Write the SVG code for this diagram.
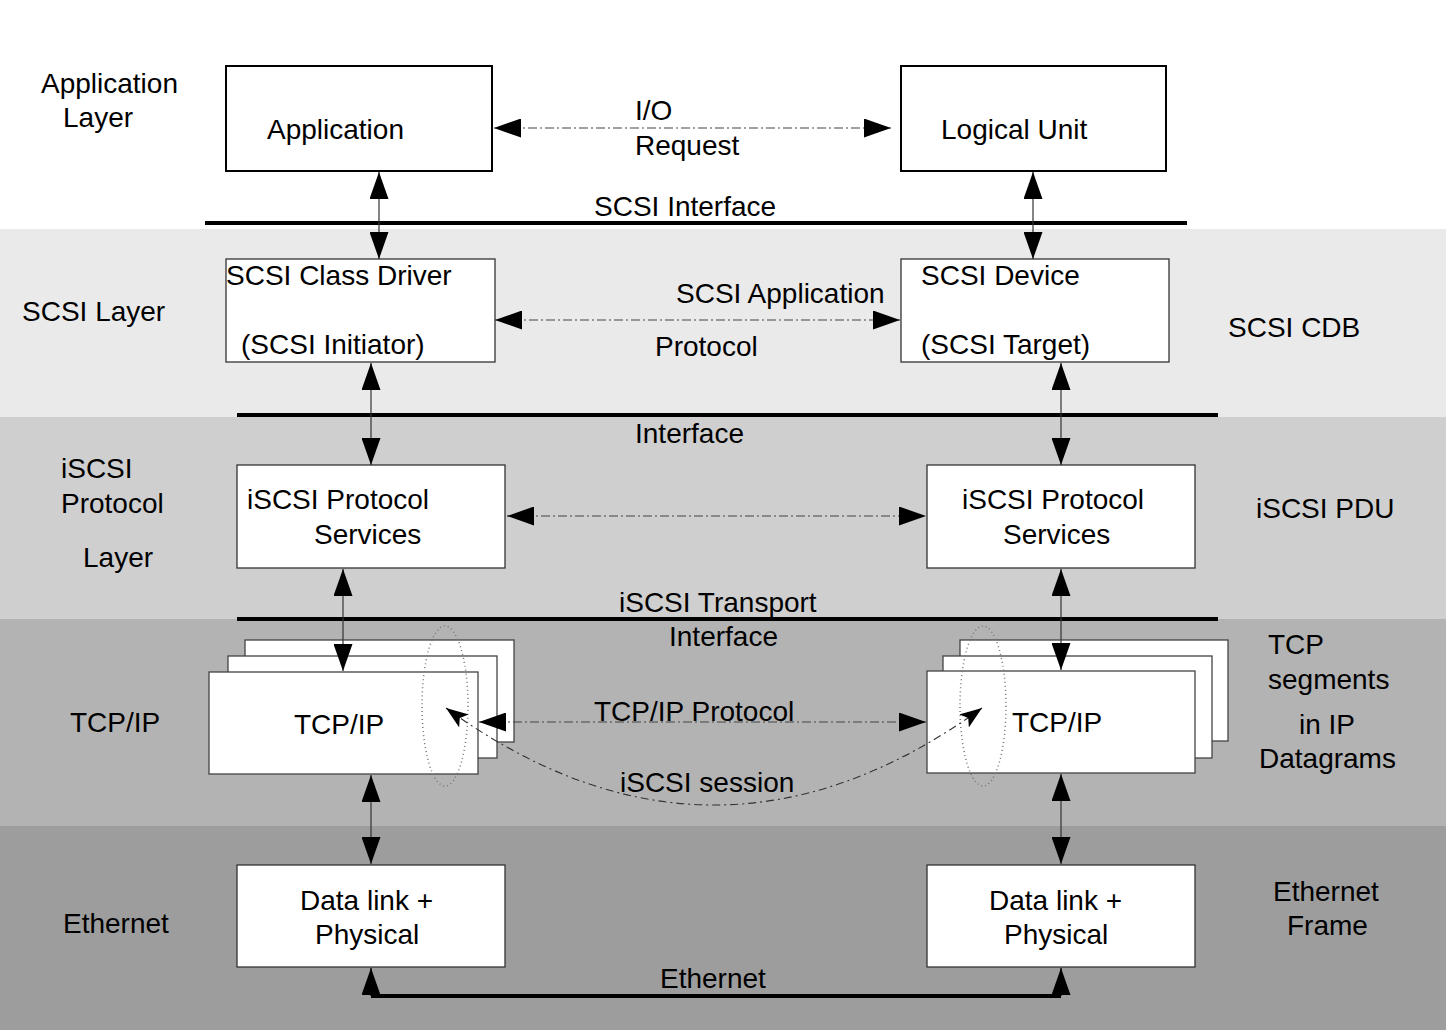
<svg xmlns="http://www.w3.org/2000/svg" width="1446" height="1030" viewBox="0 0 1446 1030">
<style>
text{font-family:"Liberation Sans",Arial,sans-serif;font-size:28px;fill:#000}
.box{fill:#fff;stroke:#333;stroke-width:1.3}
.bold{fill:#fff;stroke:#000;stroke-width:2}
.stk{fill:#fff;stroke:#444;stroke-width:1.3}
.bar{stroke:#000;stroke-width:4;fill:none}
.v{stroke:#333;stroke-width:1.2;fill:none;marker-start:url(#ah);marker-end:url(#ah)}
.h{stroke:#444;stroke-width:1.2;fill:none;stroke-dasharray:9 3 2 3;marker-start:url(#ah);marker-end:url(#ah)}
.ell{fill:none;stroke:#777;stroke-width:1.5;stroke-dasharray:1 3}
.sess{fill:none;stroke:#333;stroke-width:1.1;stroke-dasharray:8 4 2 4;marker-start:url(#sa);marker-end:url(#sa)}
</style>
<defs>
<marker id="ah" viewBox="0 0 27 19" refX="27" refY="9.5" markerWidth="27" markerHeight="19" markerUnits="userSpaceOnUse" orient="auto-start-reverse">
<path d="M0,0 L27,9.5 L0,19 z" fill="#000"/>
</marker>
<marker id="sa" viewBox="0 0 22 16" refX="22" refY="8" markerWidth="22" markerHeight="16" markerUnits="userSpaceOnUse" orient="auto-start-reverse">
<path d="M0,0 L22,8 L0,16 L5,8 z" fill="#000"/>
</marker>
</defs>
<rect width="1446" height="1030" fill="#fff"/>
<g id="bands">
<rect x="0" y="229" width="1446" height="188" fill="#eaeaea"/>
<rect x="0" y="417" width="1446" height="202" fill="#cfcfcf"/>
<rect x="0" y="619" width="1446" height="207" fill="#b3b3b3"/>
<rect x="0" y="826" width="1446" height="204" fill="#9d9d9d"/>
</g>
<g id="layer-labels">
<text x="41" y="93">Application</text>
<text x="63" y="127">Layer</text>
<text x="22" y="321">SCSI Layer</text>
<text x="61" y="478">iSCSI</text>
<text x="61" y="513">Protocol</text>
<text x="83" y="567">Layer</text>
<text x="70" y="732">TCP/IP</text>
<text x="63" y="933">Ethernet</text>
<text x="1228" y="337">SCSI CDB</text>
<text x="1256" y="518">iSCSI PDU</text>
<text x="1268" y="654">TCP</text>
<text x="1268" y="689">segments</text>
<text x="1299" y="734">in IP</text>
<text x="1259" y="768">Datagrams</text>
<text x="1273" y="901">Ethernet</text>
<text x="1287" y="935">Frame</text>
</g>
<g id="interfaces">
<line class="bar" x1="205" y1="223" x2="1187" y2="223"/>
<line class="bar" x1="237" y1="415" x2="1218" y2="415"/>
<line class="bar" x1="237" y1="619" x2="1218" y2="619"/>
<text x="594" y="216">SCSI Interface</text>
<text x="635" y="443">Interface</text>
<text x="619" y="612">iSCSI Transport</text>
<text x="669" y="646">Interface</text>
</g>
<g id="application">
<rect class="bold" x="226" y="66" width="266" height="105"/>
<text x="267" y="139">Application</text>
</g>
<g id="logical-unit">
<rect class="bold" x="901" y="66" width="265" height="105"/>
<text x="941" y="139">Logical Unit</text>
</g>
<g id="scsi-class-driver">
<rect class="box" x="226" y="259" width="269" height="103"/>
<text x="226" y="285">SCSI Class Driver</text>
<text x="241" y="354">(SCSI Initiator)</text>
</g>
<g id="scsi-device">
<rect class="box" x="901" y="259" width="268" height="103"/>
<text x="921" y="285">SCSI Device</text>
<text x="921" y="354">(SCSI Target)</text>
</g>
<g id="iscsi-left">
<rect class="box" x="237" y="465" width="268" height="103"/>
<text x="247" y="509">iSCSI Protocol</text>
<text x="314" y="544">Services</text>
</g>
<g id="iscsi-right">
<rect class="box" x="927" y="465" width="268" height="103"/>
<text x="962" y="509">iSCSI Protocol</text>
<text x="1003" y="544">Services</text>
</g>
<g id="tcpip-left">
<rect class="stk" x="245" y="640" width="269" height="102"/>
<rect class="stk" x="228" y="656" width="269" height="102"/>
<rect class="stk" x="209" y="672" width="269" height="102"/>
<text x="294" y="734">TCP/IP</text>
<ellipse class="ell" cx="445" cy="706" rx="23" ry="80"/>
</g>
<g id="tcpip-right">
<rect class="stk" x="960" y="640" width="268" height="101"/>
<rect class="stk" x="943" y="656" width="269" height="102"/>
<rect class="stk" x="927" y="671" width="268" height="102"/>
<text x="1012" y="732">TCP/IP</text>
<ellipse class="ell" cx="983" cy="706" rx="23" ry="80"/>
</g>
<g id="datalink-left">
<rect class="box" x="237" y="865" width="268" height="102"/>
<text x="300" y="910">Data link +</text>
<text x="315" y="944">Physical</text>
</g>
<g id="datalink-right">
<rect class="box" x="927" y="865" width="268" height="102"/>
<text x="989" y="910">Data link +</text>
<text x="1004" y="944">Physical</text>
</g>
<g id="connectors">
<path class="v" d="M379,172 V259"/>
<path class="v" d="M1033,172 V259"/>
<path class="v" d="M371,363 V465"/>
<path class="v" d="M1061,363 V465"/>
<path class="v" d="M343,569 V671"/>
<path class="v" d="M1061,569 V670"/>
<path class="v" d="M371,775 V864"/>
<path class="v" d="M1061,774 V864"/>
<path class="h" d="M494,128 H891"/>
<path class="h" d="M495,320 H900"/>
<path class="h" d="M507,516 H926"/>
<path class="h" d="M479,722 H926"/>
<path class="sess" d="M446,708 Q714,902 982,708"/>
<line class="bar" x1="371" y1="996" x2="1061" y2="996"/>
<path d="M371,996 V968" stroke="#000" stroke-width="1.2" marker-end="url(#ah)"/>
<path d="M1061,996 V968" stroke="#000" stroke-width="1.2" marker-end="url(#ah)"/>
<text x="635" y="120">I/O</text>
<text x="635" y="155">Request</text>
<text x="676" y="303">SCSI Application</text>
<text x="655" y="356">Protocol</text>
<text x="594" y="721">TCP/IP Protocol</text>
<text x="620" y="792">iSCSI session</text>
<text x="660" y="988">Ethernet</text>
</g>
</svg>
